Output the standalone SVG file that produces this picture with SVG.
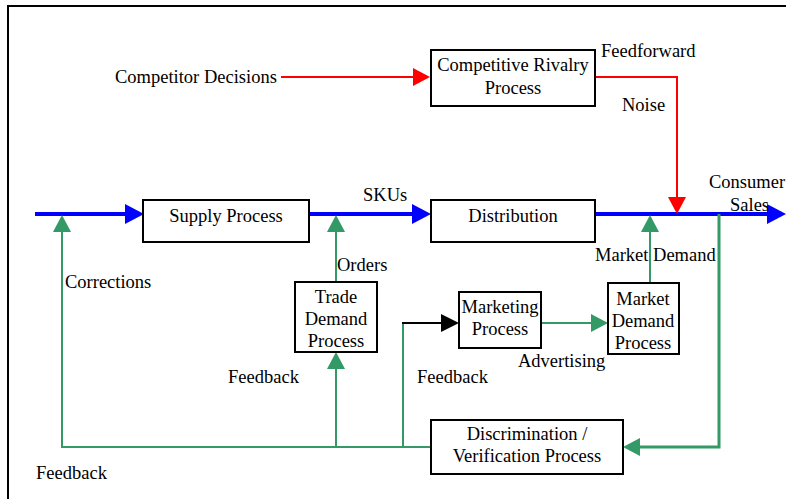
<svg xmlns="http://www.w3.org/2000/svg" width="786" height="499" viewBox="0 0 786 499">
  <style>
    text { font-family: 'Liberation Serif', 'Times New Roman', Times, 'DejaVu Serif', serif; font-size: 18.5px; fill: #000; }
    .mid { text-anchor: middle; }
    .box { fill: #fff; stroke: #000; stroke-width: 2; }
    .flow { fill: none; stroke: #0000ff; stroke-width: 4; }
    .red { fill: none; stroke: #ff0000; stroke-width: 2; }
    .green { fill: none; stroke: #339966; stroke-width: 2; }
    .green-bold { fill: none; stroke: #339966; stroke-width: 3; }
    .black { fill: none; stroke: #000; stroke-width: 2; }
  </style>
  <defs>
    <marker id="ahBlue" markerUnits="userSpaceOnUse" markerWidth="19" markerHeight="20" refX="0" refY="10" orient="auto" overflow="visible">
      <path d="M0,0 L19,10 L0,20 Z" fill="#0000ff"/>
    </marker>
    <marker id="ahRed" markerUnits="userSpaceOnUse" markerWidth="17" markerHeight="18" refX="0" refY="9" orient="auto" overflow="visible">
      <path d="M0,0 L17,9 L0,18 Z" fill="#ff0000"/>
    </marker>
    <marker id="ahGreen" markerUnits="userSpaceOnUse" markerWidth="17" markerHeight="18" refX="0" refY="9" orient="auto" overflow="visible">
      <path d="M0,0 L17,9 L0,18 Z" fill="#339966"/>
    </marker>
    <marker id="ahBlack" markerUnits="userSpaceOnUse" markerWidth="18" markerHeight="18" refX="0" refY="9" orient="auto" overflow="visible">
      <path d="M0,0 L18,9 L0,18 Z" fill="#000"/>
    </marker>
  </defs>

  <rect width="786" height="499" fill="#fff"/>
  <!-- page frame -->
  <path d="M8,499 V6 H786" fill="none" stroke="#000" stroke-width="2"/>

  <g id="connectors">
    <!-- main product flow -->
    <path class="flow" d="M35,214 H125" marker-end="url(#ahBlue)"/>
    <path class="flow" d="M309,214 H412" marker-end="url(#ahBlue)"/>
    <path class="flow" d="M595,214 H767" marker-end="url(#ahBlue)"/>
    <!-- competitor influence -->
    <path class="red" d="M281,77 H413" marker-end="url(#ahRed)"/>
    <path class="red" d="M595,77 H677 V197" marker-end="url(#ahRed)"/>
    <!-- feedback loops -->
    <path class="green" d="M431,447 H62 V232" marker-end="url(#ahGreen)"/>
    <path class="green" d="M336,282 V232" marker-end="url(#ahGreen)"/>
    <path class="green" d="M336,447 V369" marker-end="url(#ahGreen)"/>
    <path class="green" d="M403,447 V323"/>
    <path class="black" d="M402,323 H441" marker-end="url(#ahBlack)"/>
    <path class="green" d="M541,323 H591" marker-end="url(#ahGreen)"/>
    <path class="green" d="M650,283 V232" marker-end="url(#ahGreen)"/>
    <path class="green-bold" d="M719,214 V447 H640" marker-end="url(#ahGreen)"/>
  </g>

  <g id="competitive-rivalry">
    <rect class="box" x="431" y="50" width="164" height="56"/>
    <text class="mid" x="513" y="71">Competitive Rivalry</text>
    <text class="mid" x="513" y="94">Process</text>
  </g>
  <g id="supply-process">
    <rect class="box" x="143" y="200" width="166" height="42"/>
    <text class="mid" x="226" y="222">Supply Process</text>
  </g>
  <g id="distribution">
    <rect class="box" x="431" y="200" width="164" height="42"/>
    <text class="mid" x="513" y="222">Distribution</text>
  </g>
  <g id="trade-demand">
    <rect class="box" x="295" y="282" width="82" height="70"/>
    <text class="mid" x="336" y="303">Trade</text>
    <text class="mid" x="336" y="325">Demand</text>
    <text class="mid" x="336" y="347">Process</text>
  </g>
  <g id="marketing">
    <rect class="box" x="459" y="292" width="82" height="56"/>
    <text class="mid" x="500" y="313">Marketing</text>
    <text class="mid" x="500" y="335">Process</text>
  </g>
  <g id="market-demand">
    <rect class="box" x="608" y="283" width="71" height="71"/>
    <text class="mid" x="643" y="305">Market</text>
    <text class="mid" x="643" y="327">Demand</text>
    <text class="mid" x="643" y="349">Process</text>
  </g>
  <g id="discrimination">
    <rect class="box" x="431" y="420" width="192" height="54"/>
    <text class="mid" x="527" y="440">Discrimination /</text>
    <text class="mid" x="527" y="462">Verification Process</text>
  </g>

  <g id="labels">
    <text x="115" y="83">Competitor Decisions</text>
    <text x="601" y="57">Feedforward</text>
    <text x="622" y="111">Noise</text>
    <text x="363" y="201">SKUs</text>
    <text x="709" y="188">Consumer</text>
    <text x="730" y="211">Sales</text>
    <text x="337" y="271">Orders</text>
    <text x="65" y="288">Corrections</text>
    <text x="595" y="261">Market Demand</text>
    <text x="518" y="367">Advertising</text>
    <text x="228" y="383">Feedback</text>
    <text x="417" y="383">Feedback</text>
    <text x="36" y="479">Feedback</text>
  </g>
</svg>
